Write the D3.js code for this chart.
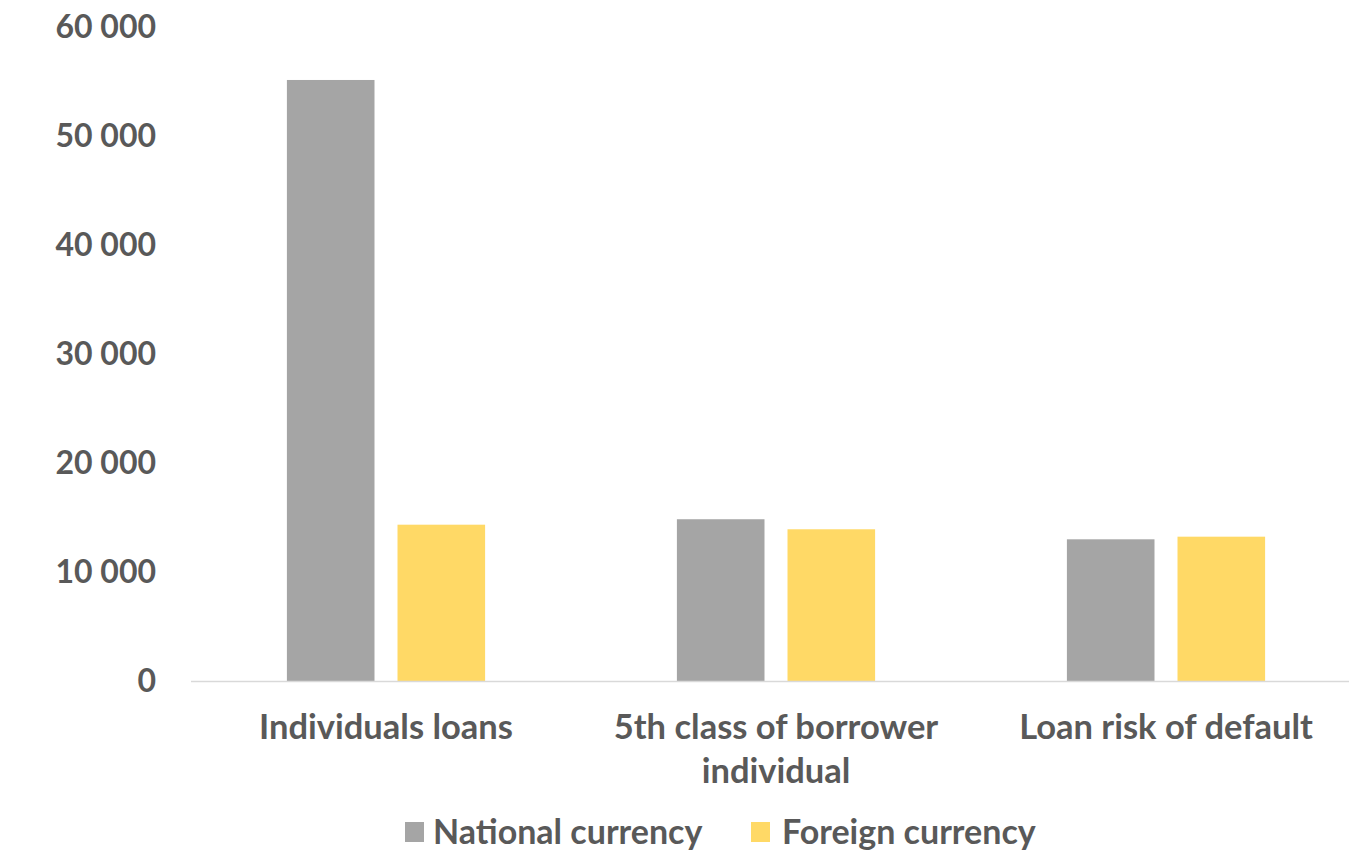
<!DOCTYPE html>
<html>
<head>
<meta charset="utf-8">
<script src="https://cdn.jsdelivr.net/npm/d3@7"></script>
<style>
  html, body { margin: 0; padding: 0; background: #fff; }
  svg { display: block; }
  text { font-family: Lato, "Open Sans", sans-serif; font-weight: bold; fill: #595959; }
</style>
</head>
<body>
<svg id="chart" width="1349" height="856"></svg>
<script>
// Loan volumes by category, split by currency
const categories = ["Individuals loans", "5th class of borrower individual", "Loan risk of default"];
const categoryLines = [["Individuals loans"], ["5th class of borrower", "individual"], ["Loan risk of default"]];
const seriesNames = ["National currency", "Foreign currency"];
const nationalValues = [55140, 14840, 13000];
const foreignValues = [14340, 13920, 13240];
const yTicks = [0, 10000, 20000, 30000, 40000, 50000, 60000];
const seriesColors = ["#A5A5A5", "#FFD966"];

const svg = d3.select("#chart");

const plot = { left: 191, right: 1361, top: 27, bottom: 681 };

const x0 = d3.scaleBand().domain(categories).range([plot.left, plot.right]).padding(0);
const inner = 95.9;
const x1 = d3.scaleBand().domain(seriesNames)
  .range([inner, x0.bandwidth() - inner]).paddingInner(0.208).paddingOuter(0);
const y = d3.scaleLinear().domain([0, 60000]).range([plot.bottom, plot.top]);
const color = d3.scaleOrdinal().domain(seriesNames).range(seriesColors);

const fmt = v => d3.format(",")(v).replace(/,/g, " ");

// Y axis labels (no line, no ticks)
const yAxis = d3.axisLeft(y).tickValues(yTicks).tickFormat(fmt).tickSize(0).tickPadding(35);
const yg = svg.append("g").attr("transform", `translate(${plot.left},0)`).call(yAxis);
yg.select(".domain").remove();
yg.selectAll("text").style("font-size", "32px").attr("fill", "#595959").attr("font-family", null);

// Bars
const rows = categories.map((c, i) => ({ cat: c, vals: [nationalValues[i], foreignValues[i]] }));
const groups = svg.append("g").selectAll("g").data(rows).join("g")
  .attr("transform", d => `translate(${x0(d.cat)},0)`);
groups.selectAll("rect")
  .data(d => d.vals.map((v, j) => ({ key: seriesNames[j], v })))
  .join("rect")
  .attr("x", d => x1(d.key))
  .attr("width", x1.bandwidth())
  .attr("y", d => y(d.v))
  .attr("height", d => y(0) - y(d.v))
  .attr("fill", d => color(d.key));

// Category axis line
svg.append("line")
  .attr("x1", plot.left).attr("x2", plot.right)
  .attr("y1", y(0) + 0.5).attr("y2", y(0) + 0.5)
  .attr("stroke", "#D9D9D9").attr("stroke-width", 1.5);

// Category labels
const xl = svg.append("g").selectAll("text").data(categories).join("text")
  .attr("x", d => x0(d) + x0.bandwidth() / 2)
  .attr("y", 739)
  .attr("text-anchor", "middle")
  .style("font-size", "34.5px");
xl.selectAll("tspan").data((d, i) => categoryLines[i]).join("tspan")
  .attr("x", function () { return d3.select(this.parentNode).attr("x"); })
  .attr("dy", (d, i) => i === 0 ? 0 : 44)
  .text(d => d);

// Legend
const legendItems = [
  { name: seriesNames[0], sx: 405, tx: 433 },
  { name: seriesNames[1], sx: 751, tx: 782 }
];
const lg = svg.append("g").selectAll("g").data(legendItems).join("g");
lg.append("rect")
  .attr("x", d => d.sx).attr("y", 822).attr("width", 19).attr("height", 20)
  .attr("fill", d => color(d.name));
lg.append("text")
  .attr("x", d => d.tx).attr("y", 844)
  .style("font-size", "34px")
  .text(d => d.name);
</script>
</body>
</html>
